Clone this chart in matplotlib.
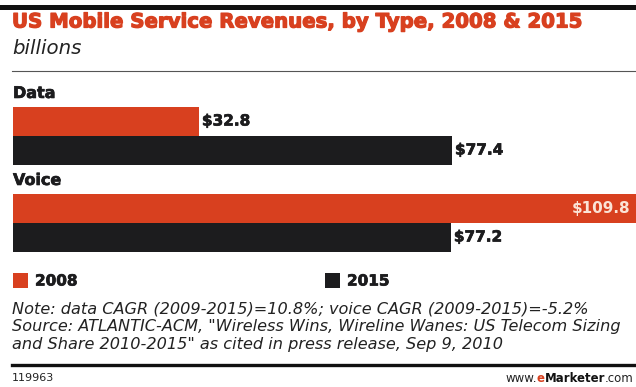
import matplotlib.pyplot as plt
import matplotlib.patheffects as pe
from matplotlib.patches import Rectangle
from matplotlib.lines import Line2D

# revenue figures, billions of dollars
groups = ["Data", "Voice"]
years = ["2008", "2015"]
rev_2008 = [32.8, 109.8]
rev_2015 = [77.4, 77.2]

RED = "#d8401f"
BLACK = "#1c1c1e"
W, H = 636, 387

plt.rcParams["font.family"] = ["DejaVu Sans"]

fig = plt.figure(figsize=(W / 100, H / 100), dpi=100)
fig.canvas.draw()
rend = fig.canvas.get_renderer()


def fy(py):
    # pixel row from top -> figure fraction
    return 1 - py / H


def fx(px):
    return px / W


def fit(t, width):
    # scale a text's font size so it spans the given pixel width
    w = t.get_window_extent(rend).width
    t.set_fontsize(t.get_fontsize() * width / w)
    return t


def heavy(col, w=0.7):
    return [pe.Stroke(linewidth=w, foreground=col), pe.Normal()]


# bars: axes spans the four bars, one unit = one bar height
ax = fig.add_axes([fx(13), fy(251.5), fx(636 - 13), fy(106.5) - fy(251.5)])
ax.set_xlim(0, 109.8)
ax.set_ylim(4.5, -0.5)
ax.axis("off")

bases = [0, 3]
for i, g in enumerate(groups):
    b = bases[i]
    ax.barh(b, rev_2008[i], height=1.0, color=RED, linewidth=0)
    ax.barh(b + 1, rev_2015[i], height=1.0, color=BLACK, linewidth=0)
    ax.text(0, b - 0.95, g, ha="left", va="center", fontsize=11.5,
            fontweight="bold", color=BLACK, clip_on=False,
            path_effects=heavy(BLACK, 0.5))
    for y, v in [(b, rev_2008[i]), (b + 1, rev_2015[i])]:
        lbl = "$%.1f" % v
        if v > 100:
            ax.text(v - 1.0, y, lbl, ha="right", va="center", fontsize=11,
                    fontweight="bold", color="#fbe3d6")
        else:
            ax.text(v + 0.5, y, lbl, ha="left", va="center", fontsize=11,
                    fontweight="bold", color=BLACK,
                    path_effects=heavy(BLACK, 0.5))

# header rules and title
fig.add_artist(Line2D([0, 1], [fy(7), fy(7)], color="#111111", lw=3.6))
fig.add_artist(Line2D([fx(12), 1], [fy(71), fy(71)], color="#555555", lw=0.8))
t = fig.text(fx(12), fy(22), "US Mobile Service Revenues, by Type, 2008 & 2015",
             ha="left", va="center", fontsize=14, fontweight="bold", color=RED,
             path_effects=heavy(RED, 0.9))
fit(t, 572)
t = fig.text(fx(12), fy(49), "billions", ha="left", va="center", fontsize=12,
             style="italic", color="#222222")
fit(t, 69)

# legend
for x0, col, yr in [(13, RED, years[0]), (325, BLACK, years[1])]:
    fig.add_artist(Rectangle((fx(x0), fy(288)), fx(15), fy(273) - fy(288),
                             color=col, lw=0))
    fig.text(fx(x0 + 22), fy(281), yr, ha="left", va="center", fontsize=11,
             fontweight="bold", color=BLACK, path_effects=heavy(BLACK, 0.5))

# notes
notes = [
    "Note: data CAGR (2009-2015)=10.8%; voice CAGR (2009-2015)=-5.2%",
    "Source: ATLANTIC-ACM, \"Wireless Wins, Wireline Wanes: US Telecom Sizing",
    "and Share 2010-2015\" as cited in press release, Sep 9, 2010",
]
nt = []
for k, line in enumerate(notes):
    nt.append(fig.text(fx(12), fy(309 + 18 * k), line, ha="left", va="center",
                       fontsize=11, style="italic", color="#222222"))
size = fit(nt[1], 609).get_fontsize()
for t in nt:
    t.set_fontsize(size)

fig.add_artist(Line2D([fx(12), 1], [fy(365), fy(365)], color="#111111", lw=2.4))
fig.text(fx(12), fy(378), "119963", ha="left", va="center", fontsize=8,
         color="#222222")

# footer url, built right to left
x = 634
for txt, col, wt in [(".com", "#222222", "normal"), ("Marketer", "#111111", "bold"),
                     ("e", RED, "bold"), ("www.", "#222222", "normal")]:
    t = fig.text(fx(x), fy(378), txt, ha="right", va="center", fontsize=8.5,
                 fontweight=wt, color=col)
    x -= t.get_window_extent(rend).width

fig.savefig("out.png", dpi=100)
